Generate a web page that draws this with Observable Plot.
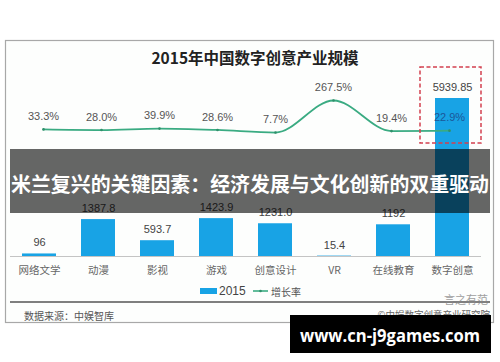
<!DOCTYPE html>
<html>
<head>
<meta charset="utf-8">
<script src="https://cdn.jsdelivr.net/npm/d3@7"></script>
<script src="https://cdn.jsdelivr.net/npm/@observablehq/plot@0.6"></script>
<style>
  html, body { margin: 0; padding: 0; background: #fff; }
  #wrap { position: relative; width: 500px; height: 362px; overflow: hidden; }
  #wrap > svg { position: absolute; left: 0; top: 0; }
</style>
</head>
<body>
<div id="wrap"></div>
<script>
// ---- data ----
const categories = ["网络文学", "动漫", "影视", "游戏", "创意设计", "VR", "在线教育", "数字创意"];
const values2015 = [96, 1387.8, 593.7, 1423.9, 1231.0, 15.4, 1192, 5939.85];
const valueLabels = ["96", "1387.8", "593.7", "1423.9", "1231.0", "15.4", "1192", "5939.85"];
const growthRates = [33.3, 28.0, 39.9, 28.6, 7.7, 267.5, 19.4, 22.9];
const growthLabels = ["33.3%", "28.0%", "39.9%", "28.6%", "7.7%", "267.5%", "19.4%", "22.9%"];
const titleText = "2015年中国数字创意产业规模";
const legendLabels = ["2015", "增长率"];
const sourceText = "数据来源：中娱智库";
const creditText = "©中娱数字创意产业研究院";
const bannerText = "米兰复兴的关键因素：经济发展与文化创新的双重驱动";
const watermarkText = "www.cn-j9games.com";

const rows = categories.map((c, i) => ({
  cat: c, value: values2015[i], vlabel: valueLabels[i],
  growth: growthRates[i], glabel: growthLabels[i], last: i === categories.length - 1
}));

const W = 500, H = 362;
const BLUE = "#18a3e5", GREEN = "#3aab82";
const NUM_FONT = "'Liberation Sans', Arial, sans-serif";
const CJK_FONT = "'Noto Sans CJK SC', sans-serif";
const xOpts = {domain: categories, range: [10, 481], paddingInner: 0.42, paddingOuter: 0.2};

const wrap = document.getElementById("wrap");

// ---- base decoration layer ----
const baseSvg = d3.create("svg").attr("width", W).attr("height", H);
baseSvg.append("rect").attr("x", 5.5).attr("y", 40.5).attr("width", 488).attr("height", 282)
  .attr("fill", "#fdfefd").attr("stroke", "#a8a8a8").attr("stroke-width", 1.2);
baseSvg.append("text").attr("x", 255).attr("y", 57).attr("text-anchor", "middle")
  .attr("dominant-baseline", "central").attr("font-family", CJK_FONT).attr("font-weight", "bold")
  .attr("font-size", 15.5).attr("fill", "#222").text(titleText);
wrap.appendChild(baseSvg.node());

// ---- bars ----
const barChart = Plot.plot({
  width: W, height: H,
  marginTop: 98, marginBottom: H - 256, marginLeft: 10, marginRight: 19,
  style: {background: "transparent", fontFamily: CJK_FONT},
  x: {...xOpts, label: null},
  y: {domain: [0, 5939.85], axis: null},
  marks: [
    Plot.ruleY([0], {stroke: "#c4c4c4", strokeWidth: 1.2}),
    Plot.barY(rows, {x: "cat", y: "value", fill: BLUE}),
    Plot.text(rows, {x: "cat", y: "value", text: "vlabel", dy: -11, fill: "#444",
      fontSize: 11, fontFamily: NUM_FONT}),
    Plot.axisX({tickSize: 0, tickPadding: 10, fontSize: 10.5, fill: "#666", label: null,
      fontFamily: CJK_FONT})
  ]
});
wrap.appendChild(barChart);

// ---- growth line ----
const lineChart = Plot.plot({
  width: W, height: H,
  marginTop: 100, marginBottom: H - 133, marginLeft: 10, marginRight: 19,
  style: {background: "transparent"},
  x: {...xOpts, axis: null},
  y: {domain: [0, 267.5], axis: null},
  marks: [
    Plot.line(rows, {x: "cat", y: "growth", stroke: GREEN, strokeWidth: 1.8, curve: "monotone-x"}),
    Plot.dot(rows, {x: "cat", y: "growth", r: 1.3, fill: "#2f8f6a"}),
    Plot.text(rows, {x: "cat", y: "growth", text: "glabel", dy: -13,
      fill: d => d.last ? "#1b5799" : "#555", fontSize: 11, fontFamily: NUM_FONT})
  ]
});
wrap.appendChild(lineChart);

// ---- top decoration layer ----
const xs = barChart.scale("x");
const yb = barChart.scale("y");
const lastCat = categories[categories.length - 1];
const bx0 = xs.apply(lastCat) - 15, bx1 = xs.apply(lastCat) + xs.bandwidth + 12;
const by0 = yb.apply(values2015[values2015.length - 1]) - 31;

const overlay = d3.create("svg").attr("width", W).attr("height", H);
overlay.append("rect").attr("x", bx0).attr("y", by0).attr("width", bx1 - bx0).attr("height", 76)
  .attr("fill", "none").attr("stroke", "#d2404f").attr("stroke-width", 1.5)
  .attr("stroke-dasharray", "4,2.5");

// legend
const lg = overlay.append("g");
lg.append("rect").attr("x", 200).attr("y", 288).attr("width", 17).attr("height", 6).attr("fill", BLUE);
lg.append("text").attr("x", 219).attr("y", 291).attr("dominant-baseline", "central")
  .attr("font-family", NUM_FONT).attr("font-size", 12).attr("fill", "#444").text(legendLabels[0]);
lg.append("line").attr("x1", 253).attr("x2", 268).attr("y1", 291).attr("y2", 291)
  .attr("stroke", GREEN).attr("stroke-width", 1.6);
lg.append("circle").attr("cx", 260.5).attr("cy", 291).attr("r", 1.3).attr("fill", "#2f8f6a");
lg.append("text").attr("x", 271).attr("y", 291).attr("dominant-baseline", "central")
  .attr("font-family", CJK_FONT).attr("font-size", 10).attr("fill", "#555").text(legendLabels[1]);

// footer
overlay.append("line").attr("x1", 10).attr("x2", 490).attr("y1", 302).attr("y2", 302)
  .attr("stroke", "#555").attr("stroke-width", 1.4);
overlay.append("text").attr("x", 24).attr("y", 315).attr("dominant-baseline", "central")
  .attr("font-family", CJK_FONT).attr("font-size", 10).attr("fill", "#555").text(sourceText);
overlay.append("text").attr("x", 490).attr("y", 314).attr("text-anchor", "end").attr("dominant-baseline", "central")
  .attr("font-family", CJK_FONT).attr("font-size", 9.5).attr("fill", "#666").text(creditText);
overlay.append("text").attr("x", 488).attr("y", 299).attr("text-anchor", "end").attr("dominant-baseline", "central")
  .attr("font-family", CJK_FONT).attr("font-size", 11).attr("fill", "#888").attr("opacity", 0.8).text("言之有范");

// banner
overlay.append("rect").attr("x", 10).attr("y", 149).attr("width", 480).attr("height", 64)
  .attr("fill", "#000").attr("opacity", 0.6);
overlay.append("text").attr("x", 250).attr("y", 183).attr("text-anchor", "middle")
  .attr("dominant-baseline", "central").attr("font-family", CJK_FONT).attr("font-weight", "bold")
  .attr("font-size", 20).attr("fill", "#fff").attr("textLength", 478).attr("lengthAdjust", "spacingAndGlyphs")
  .text(bannerText);

// watermark
overlay.append("rect").attr("x", 290).attr("y", 315).attr("width", 201).attr("height", 38).attr("fill", "#000");
overlay.append("text").attr("x", 390).attr("y", 335).attr("text-anchor", "middle")
  .attr("dominant-baseline", "central").attr("font-family", "'Open Sans', 'DejaVu Sans', sans-serif")
  .attr("font-weight", "bold").attr("font-size", 18).attr("fill", "#fff")
  .attr("textLength", 180).attr("lengthAdjust", "spacingAndGlyphs").text(watermarkText);

wrap.appendChild(overlay.node());
</script>
</body>
</html>
